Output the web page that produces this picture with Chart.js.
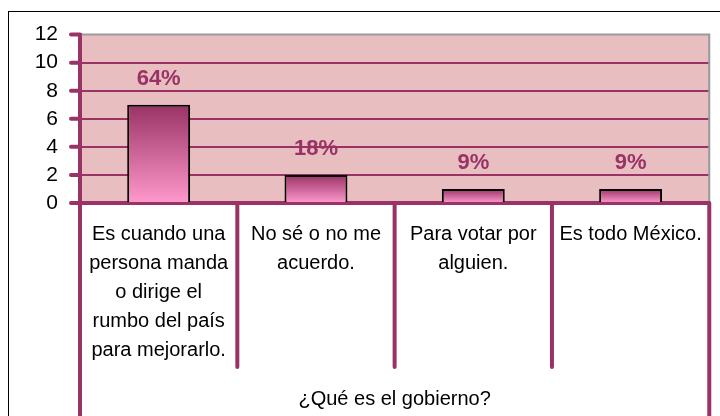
<!DOCTYPE html>
<html>
<head>
<meta charset="utf-8">
<script src="https://cdn.jsdelivr.net/npm/chart.js@4/dist/chart.umd.min.js"></script>
<style>
  html, body { margin: 0; padding: 0; background: #ffffff; }
  #wrap { position: relative; width: 720px; height: 416px; overflow: hidden; }
  #frame { position: absolute; left: 8px; top: 11px; width: 800px; height: 500px; border: 1px solid #000; box-sizing: border-box; }
  canvas { position: absolute; left: 0; top: 0; }
</style>
</head>
<body>
<div id="wrap">
  <div id="frame"></div>
  <canvas id="c" width="720" height="416"></canvas>
</div>
<script>
const categories = [
  ["Es cuando una", "persona manda", "o dirige el", "rumbo del país", "para mejorarlo."],
  ["No sé o no me", "acuerdo."],
  ["Para votar por", "alguien."],
  ["Es todo México."]
];
const values = [7, 2, 1, 1];
const percentLabels = ["64%", "18%", "9%", "9%"];
const axisTitle = "¿Qué es el gobierno?";
const yTicks = [0, 2, 4, 6, 8, 10, 12];

const MAG = '#993366';
const FONT = "'Liberation Sans', Arial, sans-serif";

const decorPlugin = {
  id: 'decor',
  beforeDraw(chart) {
    const {ctx, chartArea: a} = chart;
    ctx.save();
    ctx.fillStyle = '#E9BEC1';
    ctx.fillRect(a.left, a.top, a.right - a.left, a.bottom - a.top);
    ctx.restore();
  },
  beforeDatasetsDraw(chart) {
    const {ctx, chartArea: a} = chart;
    ctx.save();
    ctx.strokeStyle = '#999999';
    ctx.lineWidth = 2;
    ctx.beginPath();
    ctx.moveTo(a.left, a.top);
    ctx.lineTo(a.right, a.top);
    ctx.lineTo(a.right, a.bottom);
    ctx.stroke();
    const y = chart.scales.y;
    ctx.strokeStyle = MAG;
    ctx.lineWidth = 4;
    ctx.lineCap = 'round';
    y.ticks.forEach(t => {
      const py = y.getPixelForValue(t.value);
      ctx.beginPath();
      ctx.moveTo(a.left - 9, py);
      ctx.lineTo(a.left, py);
      ctx.stroke();
    });
    ctx.restore();
  },
  afterDraw(chart) {
    const {ctx, chartArea: a} = chart;
    const x = chart.scales.x;
    ctx.save();
    ctx.strokeStyle = MAG;
    ctx.lineWidth = 4;
    ctx.lineCap = 'round';
    const n = categories.length;
    for (let i = 0; i <= n; i++) {
      const px = x.getPixelForValue(i - 0.5);
      const outer = (i === 0 || i === n);
      ctx.beginPath();
      ctx.moveTo(px, a.bottom);
      ctx.lineTo(px, outer ? chart.height + 10 : 367);
      ctx.stroke();
    }
    ctx.fillStyle = MAG;
    ctx.font = "bold 22px " + FONT;
    ctx.textAlign = 'center';
    ctx.textBaseline = 'middle';
    const meta = chart.getDatasetMeta(0);
    meta.data.forEach((bar, i) => {
      ctx.fillText(percentLabels[i], bar.x, bar.y - 26);
    });
    ctx.restore();
  }
};

function barGradient(context) {
  const chart = context.chart;
  const i = context.dataIndex;
  if (i === undefined || !chart.chartArea) return MAG;
  const y = chart.scales.y;
  const top = y.getPixelForValue(values[i]);
  const bottom = y.getPixelForValue(0);
  const g = chart.ctx.createLinearGradient(0, top, 0, bottom);
  g.addColorStop(0, '#993366');
  g.addColorStop(1, '#FF99CC');
  return g;
}

new Chart(document.getElementById('c'), {
  type: 'bar',
  data: {
    labels: categories,
    datasets: [{
      data: values,
      backgroundColor: barGradient,
      borderColor: '#000000',
      borderWidth: 2,
      borderSkipped: 'bottom',
      barPercentage: 0.4,
      categoryPercentage: 1.0
    }]
  },
  options: {
    responsive: false,
    animation: false,
    devicePixelRatio: 1,
    layout: { padding: { left: 0, top: 32, right: 10, bottom: 0 } },
    plugins: { legend: { display: false }, tooltip: { enabled: false } },
    scales: {
      y: {
        min: 0, max: 12,
        afterFit(s) { s.width = 80; },
        afterBuildTicks(s) { s.ticks = yTicks.map(v => ({ value: v })); },
        ticks: {
          color: '#000000',
          font: { family: FONT, size: 21 },
          padding: 22,
          autoSkip: false
        },
        grid: {
          drawTicks: false,
          color: ctx => (ctx.tick && ctx.tick.value === 12) ? 'rgba(0,0,0,0)' : MAG,
          lineWidth: 2
        },
        border: { color: MAG, width: 4 }
      },
      x: {
        afterFit(s) { s.height = 213; },
        ticks: {
          color: '#000000',
          font: { family: FONT, size: 20, lineHeight: 29 / 20 },
          padding: 17,
          maxRotation: 0,
          minRotation: 0,
          autoSkip: false
        },
        grid: { display: false, drawTicks: false },
        border: { color: MAG, width: 4 },
        title: {
          display: true,
          text: axisTitle,
          color: '#000000',
          font: { family: FONT, size: 20 },
          padding: { top: 5, bottom: 5 }
        }
      }
    }
  },
  plugins: [decorPlugin]
});
</script>
</body>
</html>
